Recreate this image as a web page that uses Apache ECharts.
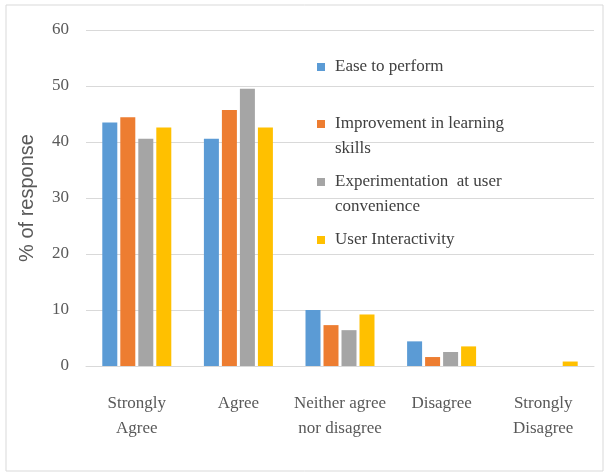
<!DOCTYPE html>
<html>
<head>
<meta charset="utf-8">
<script src="https://cdn.jsdelivr.net/npm/echarts@6/dist/echarts.min.js"></script>
<style>
  html, body { margin: 0; padding: 0; background: #fff; }
  #chart { width: 611px; height: 473px; }
</style>
</head>
<body>
<div id="chart"></div>
<script>
// Response categories on the x axis
const categories = ['Strongly\nAgree', 'Agree', 'Neither agree\nnor disagree', 'Disagree', 'Strongly\nDisagree'];

// Percentage of responses per aspect
const easeToPerform = [43.5, 40.6, 10.0, 4.4, 0];
const learningSkills = [44.4, 45.7, 7.3, 1.6, 0];
const experimentation = [40.6, 49.5, 6.4, 2.5, 0];
const userInteractivity = [42.6, 42.6, 9.2, 3.5, 0.8];

const seriesNames = [
  'Ease to perform',
  'Improvement in learning skills',
  'Experimentation at user convenience',
  'User Interactivity'
];
const legendLabels = [
  'Ease to perform',
  'Improvement in learning\nskills',
  'Experimentation  at user\nconvenience',
  'User Interactivity'
];
const colors = ['#5B9BD5', '#ED7D31', '#A5A5A5', '#FFC000'];
const seriesValues = [easeToPerform, learningSkills, experimentation, userInteractivity];

const serif = '"Liberation Serif", "Times New Roman", serif';
const LINE = 25;
const SQ = 8;      // legend marker size
const ICON_W = 13; // marker plus spacing before the label

// Marker path: a square at the top-left; an empty far corner stretches the
// icon box so the square lines up with the first text line.
function markerIcon(lines) {
  const h = SQ + (lines - 1) * LINE;
  return {
    icon: 'path://M0,0h' + SQ + 'v' + SQ + 'h-' + SQ + 'z M' + ICON_W + ',' + h + 'L' + (ICON_W + 0.001) + ',' + h,
    h: h
  };
}

// One legend block per series so each entry sits at its own row
const legendRows = [67, 124, 182, 240];
const legends = seriesNames.map((name, i) => {
  const lines = legendLabels[i].split('\n').length;
  const m = markerIcon(lines);
  return {
    data: [{ name: name, icon: m.icon }],
    orient: 'vertical',
    left: 317,
    top: legendRows[i] - LINE / 2,
    padding: 0,
    itemWidth: ICON_W,
    itemHeight: m.h,
    selectedMode: false,
    formatter: () => legendLabels[i],
    textStyle: {
      fontFamily: serif,
      fontSize: 17,
      color: '#404040',
      lineHeight: LINE
    }
  };
});

const chart = echarts.init(document.getElementById('chart'), null, { renderer: 'canvas' });
chart.setOption({
  animation: false,
  backgroundColor: '#ffffff',
  color: colors,
  grid: { left: 86, right: 17, top: 30, bottom: 107, containLabel: false },
  legend: legends,
  xAxis: {
    type: 'category',
    data: categories,
    axisTick: { show: false },
    axisLine: { lineStyle: { color: '#d9d9d9', width: 1 } },
    axisLabel: {
      interval: 0,
      margin: 25,
      fontFamily: serif,
      fontSize: 17,
      color: '#595959',
      lineHeight: LINE
    }
  },
  yAxis: {
    type: 'value',
    min: 0,
    max: 60,
    interval: 10,
    name: '% of response',
    nameLocation: 'middle',
    nameGap: 49,
    nameRotate: 90,
    nameTextStyle: {
      fontFamily: '"Liberation Sans", Arial, sans-serif',
      fontSize: 20,
      color: '#595959'
    },
    axisLine: { show: false },
    axisTick: { show: false },
    splitLine: { lineStyle: { color: '#d9d9d9', width: 1 } },
    axisLabel: {
      margin: 17,
      fontFamily: serif,
      fontSize: 17,
      color: '#595959'
    }
  },
  series: seriesNames.map((name, i) => ({
    name: name,
    type: 'bar',
    data: seriesValues[i],
    barWidth: 15,
    barGap: '20%',
    itemStyle: { color: colors[i] }
  })),
  graphic: [{
    type: 'rect',
    shape: { x: 6, y: 5, width: 597, height: 466 },
    style: { fill: 'none', stroke: '#d9d9d9', lineWidth: 1 },
    silent: true,
    z: -1
  }]
});
</script>
</body>
</html>
